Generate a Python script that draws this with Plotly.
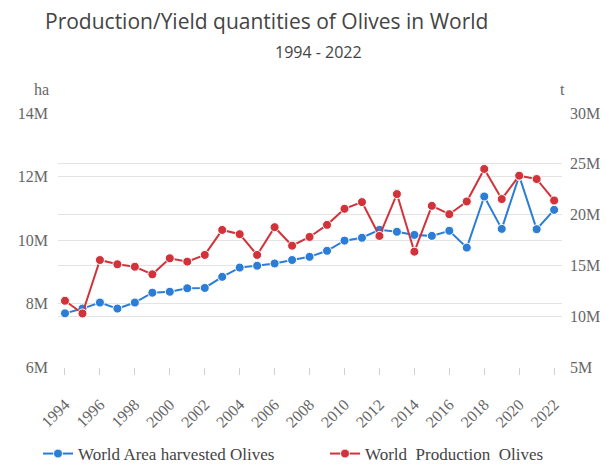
import plotly.graph_objects as go

years = list(range(1994, 2023))
area_ha = [7.69e6, 7.84e6, 8.03e6, 7.84e6, 8.03e6, 8.34e6, 8.37e6, 8.48e6, 8.49e6, 8.84e6,
           9.13e6, 9.19e6, 9.26e6, 9.37e6, 9.47e6, 9.66e6, 9.98e6, 10.07e6, 10.32e6, 10.26e6,
           10.16e6, 10.13e6, 10.29e6, 9.76e6, 11.37e6, 10.35e6, 12.02e6, 10.34e6, 10.95e6]
production_t = [11.52e6, 10.27e6, 15.53e6, 15.11e6, 14.87e6, 14.12e6, 15.70e6, 15.37e6, 16.03e6, 18.49e6,
                18.07e6, 16.03e6, 18.76e6, 16.94e6, 17.80e6, 18.99e6, 20.57e6, 21.23e6, 17.90e6, 22.02e6,
                16.35e6, 20.86e6, 20.04e6, 21.29e6, 24.49e6, 21.53e6, 23.83e6, 23.50e6, 21.39e6]
tick_years = list(range(1994, 2023, 2))

BLUE = "#2b7dd5"
RED = "#d2323a"
GRID = "#e3e3e3"
TXT = "#666666"
SERIF = "Liberation Serif"

L, R, T, B = 58, 44, 113, 99
PW, PH = 606 - L - R, 466 - T - B


def px_x(x):
    return (x - L) / PW


def px_y(y):
    return (466 - B - y) / PH


fig = go.Figure()
fig.add_trace(go.Scatter(
    x=years, y=area_ha, name="World Area harvested Olives", mode="lines+markers",
    line=dict(color=BLUE, width=2),
    marker=dict(color=BLUE, size=9, line=dict(color="white", width=1)),
    yaxis="y", legend="legend"))
fig.add_trace(go.Scatter(
    x=years, y=production_t, name="World  Production  Olives", mode="lines+markers",
    line=dict(color=RED, width=2),
    marker=dict(color=RED, size=9, line=dict(color="white", width=1)),
    yaxis="y2", legend="legend2"))

legend_common = dict(orientation="h", xanchor="left", xref="container",
                     yanchor="middle", yref="container", y=(466 - 454) / 466,
                     font=dict(family=SERIF, size=17, color="#444444"),
                     itemwidth=30, bgcolor="rgba(0,0,0,0)")

fig.update_layout(
    width=606, height=466,
    margin=dict(l=L, r=R, t=T, b=B, autoexpand=False),
    paper_bgcolor="white", plot_bgcolor="white",
    title=dict(text="Production/Yield quantities of Olives in World",
               x=45 / 606, xref="container", xanchor="left",
               y=1 - 22 / 466, yref="container", yanchor="middle",
               font=dict(family="Open Sans", size=21, color="#444444")),
    xaxis=dict(range=[1993.6, 2022.45], tickvals=tick_years, ticktext=[str(y) for y in tick_years],
               tickangle=-45, showgrid=False, zeroline=False, automargin=False,
               showline=False, ticks="outside", ticklen=7, tickcolor="#d0d0d0",
               ticklabelstandoff=14,
               tickfont=dict(family=SERIF, size=16, color=TXT)),
    yaxis=dict(range=[6e6, 14e6], dtick=2e6, tickformat="~s", showgrid=True, gridcolor=GRID,
               zeroline=False, showline=False, ticklabelstandoff=9, automargin=False,
               tickfont=dict(family=SERIF, size=16, color=TXT)),
    yaxis2=dict(range=[5e6, 30e6], dtick=5e6, tickformat="~s", overlaying="y", side="right",
                showgrid=True, gridcolor=GRID, zeroline=False, showline=False, ticklabelstandoff=7,
                automargin=False, tickfont=dict(family=SERIF, size=16, color=TXT)),
    legend=dict(x=38 / 606, **legend_common),
    legend2=dict(x=325 / 606, **legend_common),
    showlegend=True,
)

fig.add_annotation(text="1994 - 2022", xref="paper", yref="paper", x=px_x(318), y=px_y(52),
                   yanchor="middle", showarrow=False,
                   font=dict(family="Open Sans", size=16, color="#444444"))
fig.add_annotation(text="ha", xref="paper", yref="paper", x=px_x(32), y=px_y(90),
                   yanchor="middle", showarrow=False, font=dict(family=SERIF, size=16, color=TXT))
fig.add_annotation(text="t", xref="paper", yref="paper", x=px_x(567), y=px_y(90),
                   yanchor="middle", showarrow=False, font=dict(family=SERIF, size=16, color=TXT))

fig.write_html("out.html")
